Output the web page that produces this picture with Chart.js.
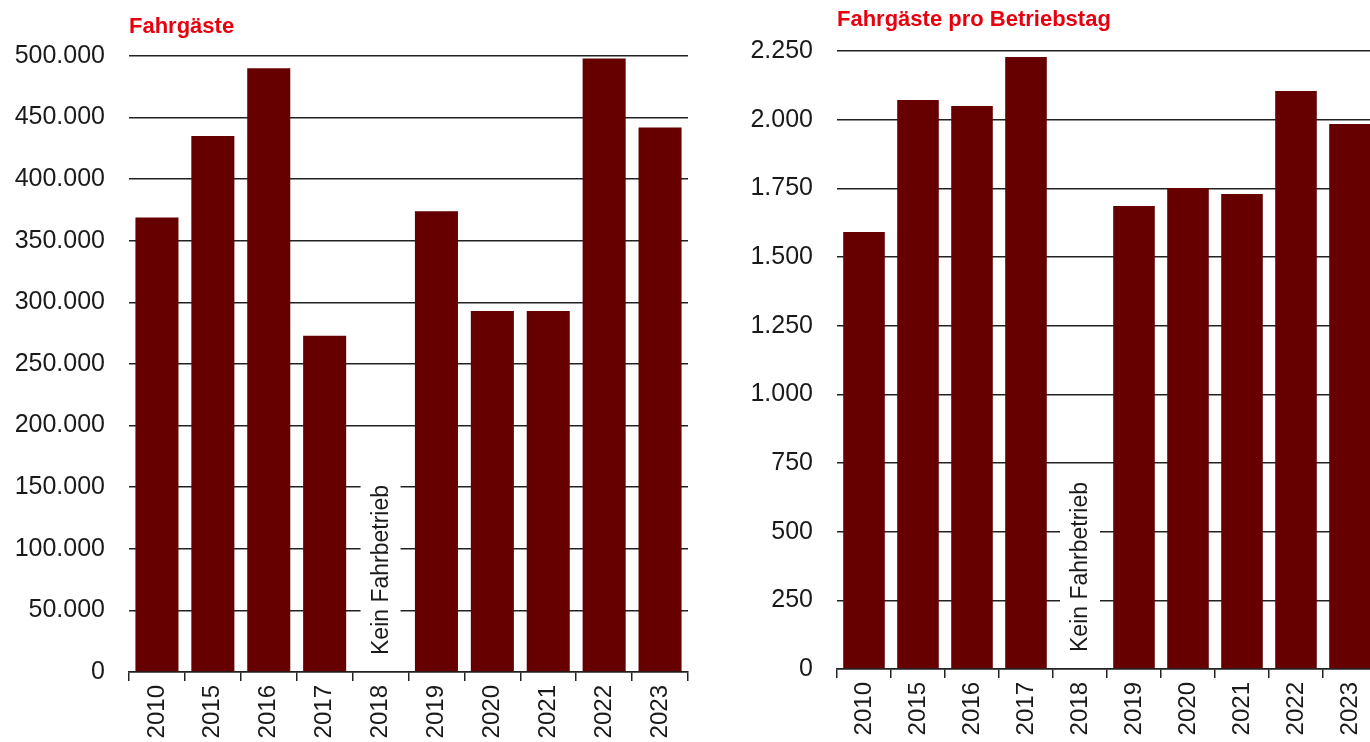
<!DOCTYPE html>
<html lang="de">
<head>
<meta charset="utf-8">
<script src="https://cdn.jsdelivr.net/npm/chart.js@4/dist/chart.umd.min.js"></script>
<style>
  html, body { margin: 0; padding: 0; background: #fff; overflow: hidden; width: 1370px; height: 742px; }
  .box { position: absolute; top: 0; height: 742px; }
  #leftBox { left: 0; width: 700px; }
  #rightBox { left: 720px; width: 700px; }
</style>
</head>
<body>
<div class="box" id="leftBox"><canvas id="chartFahrgaeste"></canvas></div>
<div class="box" id="rightBox"><canvas id="chartProTag"></canvas></div>
<script>
  // Daten
  const years = ["2010", "2015", "2016", "2017", "2018", "2019", "2020", "2021", "2022", "2023"];
  const fahrgaeste = [369000, 435000, 490000, 273000, null, 374000, 293000, 293000, 498000, 442000];
  const proBetriebstag = [1591, 2072, 2050, 2228, null, 1686, 1751, 1729, 2104, 1984];
  const titleLeft = "Fahrgäste";
  const titleRight = "Fahrgäste pro Betriebstag";
  const noServiceLabel = "Kein Fahrbetrieb";
  const noServiceIndex = 4;

  const barColor = "#660000";
  const gridColor = "#222";
  const textColor = "#1a1a1a";
  const titleColor = "#e8000f";

  // weißes Feld mit senkrechtem Text für 2018
  const noServicePlugin = {
    id: "noService",
    afterDatasetsDraw(chart) {
      const ctx = chart.ctx;
      const x = chart.scales.x.getPixelForValue(noServiceIndex);
      const y0 = chart.scales.y.getPixelForValue(0);
      ctx.save();
      ctx.font = "23px 'Liberation Sans', Arial, sans-serif";
      const w = ctx.measureText(noServiceLabel).width;
      ctx.fillStyle = "#fff";
      ctx.fillRect(x - 20, y0 - 17 - w - 7, 40, w + 7 + 16);
      ctx.translate(x + 1, y0 - 17);
      ctx.rotate(-Math.PI / 2);
      ctx.fillStyle = textColor;
      ctx.textAlign = "left";
      ctx.textBaseline = "middle";
      ctx.fillText(noServiceLabel, 0, 0);
      ctx.restore();
    }
  };

  function makeChart(id, values, title, opts) {
    new Chart(document.getElementById(id), {
      type: "bar",
      data: {
        labels: years,
        datasets: [{
          data: values,
          backgroundColor: barColor,
          borderWidth: 0,
          barPercentage: 0.77,
          categoryPercentage: 1.0
        }]
      },
      options: {
        responsive: true,
        maintainAspectRatio: false,
        animation: false,
        layout: { padding: { top: 0, right: opts.padRight, left: 0, bottom: 0 } },
        plugins: {
          legend: { display: false },
          tooltip: { enabled: false },
          title: {
            display: true,
            text: title,
            align: "start",
            fullSize: false,
            color: titleColor,
            font: { family: "'Liberation Sans', Arial, sans-serif", size: 22, weight: "bold", lineHeight: 1.2 },
            padding: opts.titlePad
          }
        },
        scales: {
          x: {
            offset: true,
            grid: { display: true, drawOnChartArea: false, drawTicks: true, tickLength: 9, offset: true, color: gridColor, lineWidth: 1.5 },
            border: { display: true, color: gridColor, width: 1.5 },
            ticks: {
              minRotation: 90, maxRotation: 90, autoSkip: false, padding: 4,
              color: textColor,
              font: { family: "'Liberation Sans', Arial, sans-serif", size: 24 }
            },
            afterFit(scale) { scale.height = opts.xHeight; }
          },
          y: {
            min: 0,
            max: opts.max,
            grid: { drawTicks: false, color: gridColor, lineWidth: 1.5 },
            border: { display: false },
            ticks: {
              stepSize: opts.step,
              padding: 24,
              color: textColor,
              font: { family: "'Liberation Sans', Arial, sans-serif", size: 25 },
              callback: (v) => v.toLocaleString("de-DE")
            },
            afterFit(scale) { scale.width = opts.yWidth; }
          }
        }
      },
      plugins: [noServicePlugin]
    });
  }

  makeChart("chartFahrgaeste", fahrgaeste, titleLeft, {
    max: 500000, step: 50000, yWidth: 129, xHeight: 70, padRight: 12,
    titlePad: { top: 14, bottom: 15.6 }
  });
  makeChart("chartProTag", proBetriebstag, titleRight, {
    max: 2250, step: 250, yWidth: 117, xHeight: 73, padRight: 43,
    titlePad: { top: 7, bottom: 17.6 }
  });
</script>
</body>
</html>
